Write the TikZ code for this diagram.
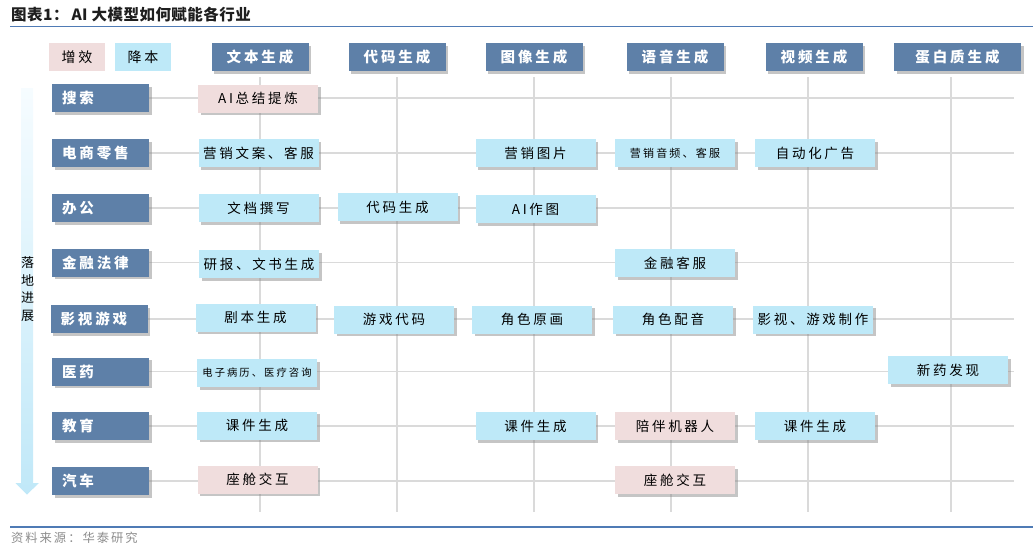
\documentclass[tikz,border=0pt]{standalone}
\usepackage{fontspec}
\setmainfont{Noto Sans CJK SC}
\newfontfamily\cjk[LetterSpace=20]{Noto Sans CJK SC}
\newfontfamily\cjkf[LetterSpace=16]{Noto Sans CJK SC}
\newfontfamily\cjkt[LetterSpace=3]{Noto Sans CJK SC}
\usetikzlibrary{shadows,backgrounds}
\definecolor{hdr}{RGB}{94,128,168}
\definecolor{lblue}{RGB}{190,233,248}
\definecolor{lpink}{RGB}{240,221,221}
\definecolor{gridc}{RGB}{218,218,218}
\definecolor{rulec}{RGB}{79,123,181}
\definecolor{arrtop}{RGB}{246,252,255}
\definecolor{arrbot}{RGB}{192,232,248}
\definecolor{footc}{RGB}{140,140,140}
\definecolor{titlec}{RGB}{30,30,30}
\begin{document}
\begin{tikzpicture}[x=1pt,y=-1pt,
  shd/.style={drop shadow={shadow xshift=2.5pt,shadow yshift=-2.5pt,fill=black!45,opacity=0.5}},
  hdrbox/.style={shd,fill=hdr,text=white,font=\cjk\bfseries\fontsize{14.5}{15}\selectfont,minimum width=97pt,minimum height=28pt,inner sep=0pt},
  rowbox/.style={shd,fill=hdr,text=white,font=\cjk\bfseries\fontsize{14.5}{15}\selectfont,text width=77pt,inner xsep=10pt,inner ysep=0pt,minimum height=28pt,align=left},
  cbox/.style={shd,minimum width=120pt,minimum height=28pt,inner sep=0pt,font=\cjk\fontsize{13.5}{14}\selectfont},
  bluebox/.style={cbox,fill=lblue},
  pinkbox/.style={cbox,fill=lpink},
  smalltxt/.style={font=\cjk\fontsize{11}{12}\selectfont},
  tinytxt/.style={font=\cjk\fontsize{10.3}{12}\selectfont},
  legbox/.style={minimum width=56pt,minimum height=28pt,inner sep=0pt,font=\cjk\fontsize{14}{14}\selectfont},
  gridline/.style={draw=gridc,line width=1.5pt},
  rulel/.style={draw=rulec,line width=1.2pt}
]
\useasboundingbox (0,0) rectangle (1033,554);

% title and rules
\node[anchor=west,text=titlec,font=\cjkt\bfseries\fontsize{15.5}{15.5}\selectfont,inner sep=0pt] (title) at (11,15) {图表1：\hspace{3pt}AI 大模型如何赋能各行业};
\coordinate (rt1) at (10,26.5);
\coordinate (rt2) at (1033,26.5);
\coordinate (rb1) at (10,527);
\coordinate (rb2) at (1033,527);
\draw[rulel] (rt1) -- (rt2);
\draw[rulel] (rb1) -- (rb2);
\node[anchor=west,text=footc,font=\cjkf\fontsize{12.3}{12.3}\selectfont,inner sep=0pt] (foot) at (11,538) {资料来源：华泰研究};

% legend
\node[legbox,fill=lpink] (lg1) at (77,57) {增效};
\node[legbox,fill=lblue] (lg2) at (143,57) {降本};

% column headers
\node[hdrbox] (h1) at (260,57) {文本生成};
\node[hdrbox] (h2) at (397,57) {代码生成};
\node[hdrbox] (h3) at (534,57) {图像生成};
\node[hdrbox] (h4) at (675,57) {语音生成};
\node[hdrbox] (h5) at (814,57) {视频生成};
\node[hdrbox,minimum width=127pt] (h6) at (957.5,57) {蛋白质生成};

% row labels
\node[rowbox] (r1) at (100.5,98) {搜索};
\node[rowbox] (r2) at (100.5,153) {电商零售};
\node[rowbox] (r3) at (100.5,208) {办公};
\node[rowbox] (r4) at (100.5,262.5) {金融法律};
\node[rowbox] (r5) at (99,319) {影视游戏};
\node[rowbox] (r6) at (100.5,371.5) {医药};
\node[rowbox] (r7) at (100.5,426) {教育};
\node[rowbox] (r8) at (100.5,481) {汽车};

% grid end coordinates
\coordinate (gx) at (1014,0);
\foreach \c/\x in {1/260,2/397,3/534,4/671,5/808,6/951}{
  \coordinate (v\c t) at (\x,77);
  \coordinate (v\c b) at (\x,512);
}

% content boxes
\node[pinkbox] (a1) at (258,98.5) {AI总结提炼};

\node[bluebox] (b1) at (258.5,153) {营销文案、客服};
\node[bluebox] (b3) at (535.5,153) {营销图片};
\node[bluebox,smalltxt] (b4) at (675,153) {营销音频、客服};
\node[bluebox] (b5) at (815,153) {自动化广告};

\node[bluebox] (c1) at (258.5,208) {文档撰写};
\node[bluebox] (c2) at (397.5,207) {代码生成};
\node[bluebox] (c3) at (535.5,209) {AI作图};

\node[bluebox] (d1) at (259,264) {研报、文书生成};
\node[bluebox] (d4) at (675,263) {金融客服};

\node[bluebox] (e1) at (255.5,317.5) {剧本生成};
\node[bluebox] (e2) at (394,319.5) {游戏代码};
\node[bluebox] (e3) at (532,319.5) {角色原画};
\node[bluebox] (e4) at (673,319.5) {角色配音};
\node[bluebox] (e5) at (813,319.5) {影视、游戏制作};

\node[bluebox,tinytxt] (f1) at (257,373) {电子病历、医疗咨询};
\node[bluebox] (f6) at (948,370) {新药发现};

\node[bluebox] (g1) at (257,425.5) {课件生成};
\node[bluebox] (g3) at (535.5,426) {课件生成};
\node[pinkbox] (g4) at (675,426) {陪伴机器人};
\node[bluebox] (g5) at (815,426) {课件生成};

\node[pinkbox] (k1) at (257.5,479.5) {座舱交互};
\node[pinkbox] (k4) at (675,480) {座舱交互};

% background: grid and arrow
\begin{scope}[on background layer]
  \foreach \c in {1,...,6}{ \draw[gridline] (v\c t) -- (v\c b); }
  \foreach \r in {1,...,8}{ \draw[gridline] (r\r.east) -- (r\r.east -| gx); }
  \shade[top color=arrtop,bottom color=arrbot]
    (21,88) -- (33,88) -- (33,483) -- (39,483) -- (27,494.5) -- (15.5,483) -- (21,483) -- cycle;
\end{scope}
\node[align=center,font=\fontsize{13}{17.8}\selectfont,inner sep=0pt] (prog) at (27.5,289) {落\\地\\进\\展};
\end{tikzpicture}
\end{document}
